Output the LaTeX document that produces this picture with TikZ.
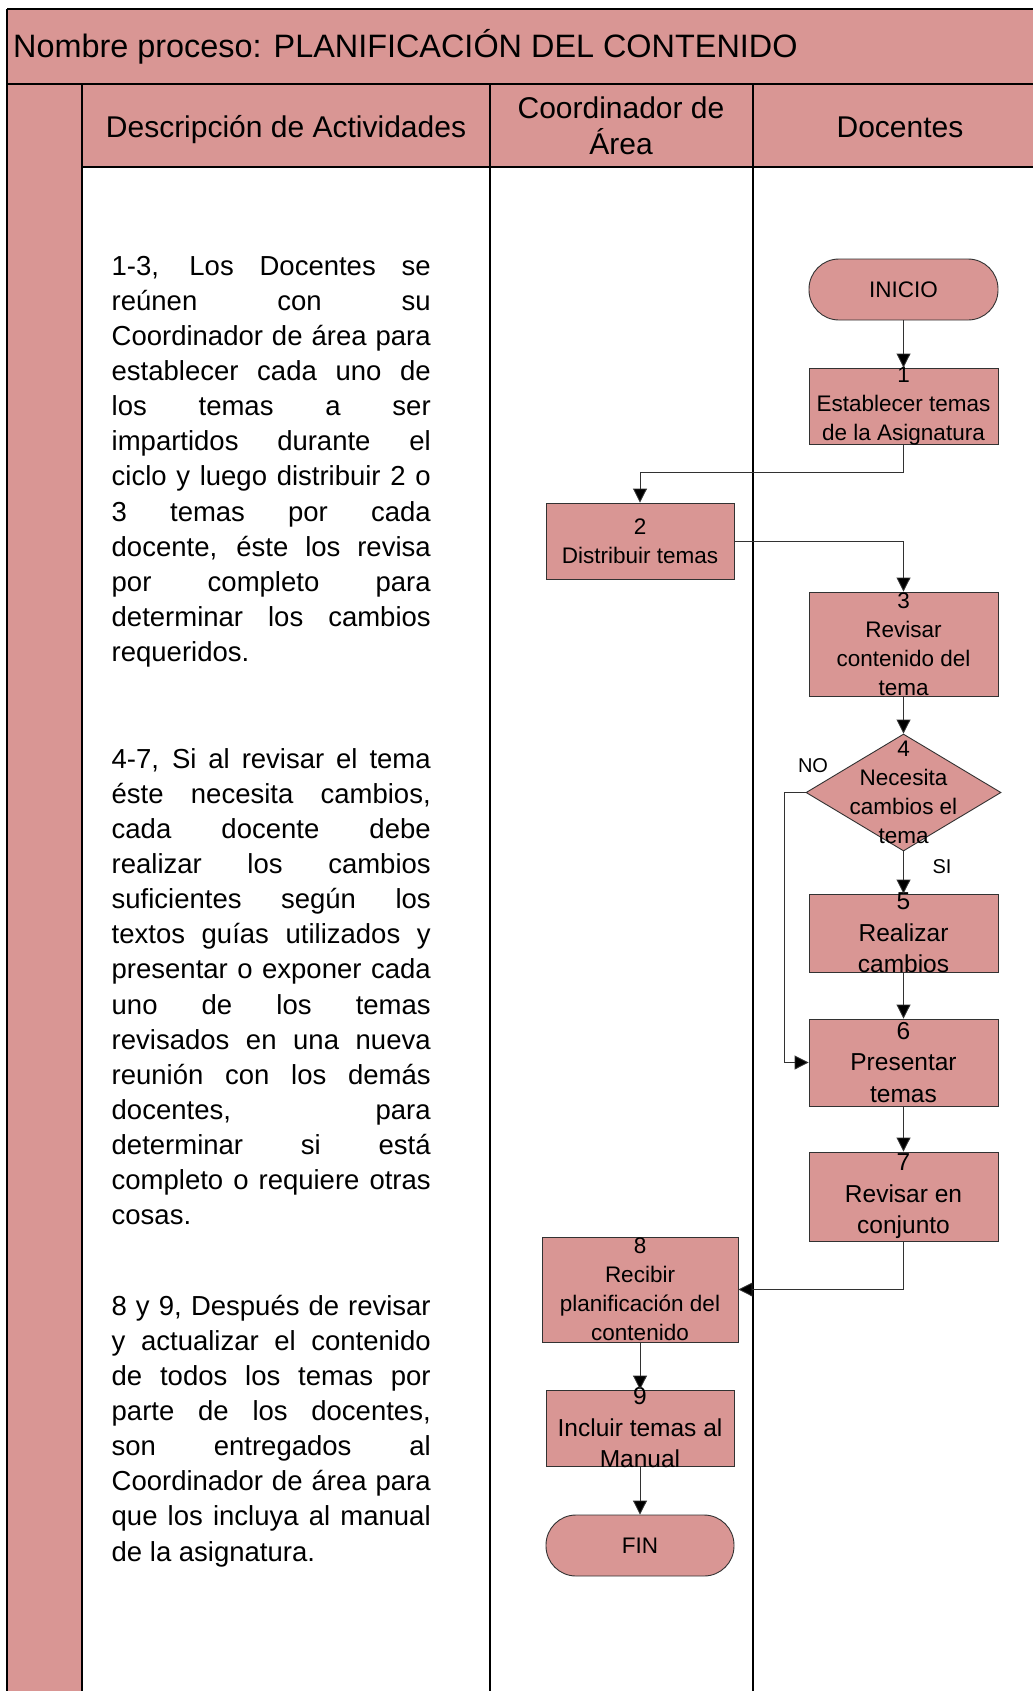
\documentclass[tikz,border=0pt]{standalone}
\usepackage{fontspec}
\setmainfont{Liberation Sans}
\usetikzlibrary{shapes.geometric,arrows.meta}

\definecolor{rosa}{RGB}{217,150,148}
\definecolor{edgegray}{RGB}{50,50,50}

% font sizes used in the chart
\newcommand{\ftitle}{\fontsize{32.4pt}{38pt}\selectfont}
\newcommand{\fhead}{\fontsize{30pt}{36pt}\selectfont}
\newcommand{\fdesc}{\fontsize{27.5pt}{35.15pt}\selectfont}
\newcommand{\fsmall}{\fontsize{22.5pt}{29pt}\selectfont}
\newcommand{\fbig}{\fontsize{24.5pt}{31.5pt}\selectfont}
\newcommand{\flabel}{\fontsize{20pt}{24pt}\selectfont}

% one justified line and one ragged (last) line of the description column
\newcommand{\jline}[1]{\hbox to 319pt{#1}}
\newcommand{\lastline}[1]{\hbox{#1}}

\begin{document}
\begin{tikzpicture}[x=1pt,y=-1pt,
  lane/.style={line width=1.3pt, draw=black},
  procbox/.style={draw=edgegray, line width=0.9pt, fill=rosa, rectangle,
                  inner sep=0pt, minimum width=189pt},
  termbox/.style={procbox, rounded corners=30pt},
  decbox/.style={draw=edgegray, line width=0.9pt, fill=rosa, diamond,
                 inner sep=0pt, minimum width=195pt, minimum height=117pt},
  smalltxt/.style={inner sep=0pt, align=center, font=\fsmall},
  bigtxt/.style={inner sep=0pt, align=center, font=\fbig},
  flow/.style={draw=edgegray, line width=0.9pt,
               -{Triangle[length=14pt,width=14pt,fill=black]}},
  cond/.style={inner sep=0pt, font=\flabel}
]
\useasboundingbox (0,0) rectangle (1033,1691);

% ---- pool background -------------------------------------------------
\fill[rosa] (7,9) rectangle (1033,84);
\fill[rosa] (82,85) rectangle (1033,167);
\fill[rosa] (7,85) rectangle (82,1691);

% ---- pool lines --------------------------------------------------------
\draw[lane] (7,9) -- (1033,9);
\draw[lane] (7,9) -- (7,1691);
\draw[lane, line width=2.4pt] (7,84) -- (1033,84);
\draw[lane] (82,84) -- (82,1691);
\draw[lane] (490,84) -- (490,1691);
\draw[lane] (753,84) -- (753,1691);
\draw[lane] (82,167) -- (1033,167);

% ---- titles --------------------------------------------------------------
\node[anchor=base west, inner sep=0pt, font=\ftitle] (title) at (13,58)
  {Nombre proceso: PLANIFICACIÓN DEL CONTENIDO};
\node[anchor=base, inner sep=0pt, font=\fhead] (hdesc) at (286,137)
  {Descripción de Actividades};
\node[anchor=base, inner sep=0pt, font=\fhead] (hcoord1) at (621,118)
  {Coordinador de};
\node[anchor=base, inner sep=0pt, font=\fhead] (hcoord2) at (621,154)
  {Área};
\node[anchor=base, inner sep=0pt, font=\fhead] (hdoc) at (900,137)
  {Docentes};

% ---- activity descriptions ---------------------------------------------
\node[anchor=base west, inner sep=0pt, font=\fdesc] (p1) at (111.5,275) {\vtop{%
  \jline{1-3, Los Docentes se}
  \jline{reúnen con su}
  \jline{Coordinador de área para}
  \jline{establecer cada uno de}
  \jline{los temas a ser}
  \jline{impartidos durante el}
  \jline{ciclo y luego distribuir 2 o}
  \jline{3 temas por cada}
  \jline{docente, éste los revisa}
  \jline{por completo para}
  \jline{determinar los cambios}
  \lastline{requeridos.}}};

\node[anchor=base west, inner sep=0pt, font=\fdesc] (p2) at (111.5,768) {\vtop{%
  \jline{4-7, Si al revisar el tema}
  \jline{éste necesita cambios,}
  \jline{cada docente debe}
  \jline{realizar los cambios}
  \jline{suficientes según los}
  \jline{textos guías utilizados y}
  \jline{presentar o exponer cada}
  \jline{uno de los temas}
  \jline{revisados en una nueva}
  \jline{reunión con los demás}
  \jline{docentes, para}
  \jline{determinar si está}
  \jline{completo o requiere otras}
  \lastline{cosas.}}};

\node[anchor=base west, inner sep=0pt, font=\fdesc] (p3) at (111.5,1315) {\vtop{%
  \jline{8 y 9, Después de revisar}
  \jline{y actualizar el contenido}
  \jline{de todos los temas por}
  \jline{parte de los docentes,}
  \jline{son entregados al}
  \jline{Coordinador de área para}
  \jline{que los incluya al manual}
  \lastline{de la asignatura.}}};

% ---- flowchart nodes -------------------------------------------------------
\node[termbox, minimum height=61pt,
      label={[smalltxt]center:INICIO}] (ini) at (903.5,289.5) {};
\node[procbox, minimum height=76pt,
      label={[smalltxt]center:{1\\Establecer temas\\de la Asignatura}}] (b1) at (903.5,406) {};
\node[procbox, minimum width=188pt, minimum height=76pt,
      label={[smalltxt]center:{2\\Distribuir temas}}] (b2) at (640,541) {};
\node[procbox, minimum height=104pt,
      label={[smalltxt]center:{3\\Revisar\\contenido del\\tema}}] (b3) at (903.5,644) {};
\node[decbox,
      label={[smalltxt]center:{4\\Necesita\\cambios el\\tema}}] (d4) at (903.5,792.5) {};
\node[procbox, minimum height=78pt,
      label={[bigtxt]center:{5\\Realizar\\cambios}}] (b5) at (903.5,933) {};
\node[procbox, minimum height=87pt,
      label={[bigtxt]center:{6\\Presentar\\temas}}] (b6) at (903.5,1062.5) {};
\node[procbox, minimum height=89pt,
      label={[bigtxt]center:{7\\Revisar en\\conjunto}}] (b7) at (903.5,1196.5) {};
\node[procbox, minimum width=196pt, minimum height=105pt,
      label={[smalltxt]center:{8\\Recibir\\planificación del\\contenido}}] (b8) at (640,1289.5) {};
\node[procbox, minimum width=188pt, minimum height=76pt,
      label={[bigtxt]center:{9\\Incluir temas al\\Manual}}] (b9) at (640,1428) {};
\node[termbox, minimum width=188pt, minimum height=61pt,
      label={[smalltxt]center:FIN}] (fin) at (640,1545.5) {};

% ---- branch labels ------------------------------------------------------------
\node[cond] (lno) at (813,766) {NO};
\node[cond] (lsi) at (942,867) {SI};

% ---- connectors -------------------------------------------------------------
\draw[flow] (ini) -- (b1);
\draw[flow] (b1.south) -- ++(0,28) -| (b2.north);
\draw[flow] (b2.east) -| (b3.north);
\draw[flow] (b3) -- (d4);
\draw[flow] (d4) -- (b5);
\draw[flow] (d4.west) -- ++(-21,0) |- (b6.west);
\draw[flow] (b5) -- (b6);
\draw[flow] (b6) -- (b7);
\draw[flow] (b7.south) |- (b8.east);
\draw[flow] (b8) -- (b9);
\draw[flow] (b9) -- (fin);
\end{tikzpicture}
\end{document}
